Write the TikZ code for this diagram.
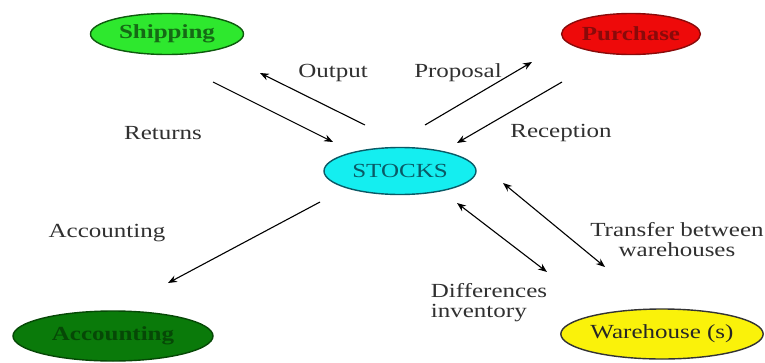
\documentclass[tikz,border=0pt]{standalone}
\usepackage{fontspec}
\setmainfont{Liberation Serif}[FakeStretch=1.25]
\usetikzlibrary{shapes.geometric,arrows.meta}
\definecolor{shipfill}{HTML}{2EE82E}
\definecolor{shipline}{HTML}{0E5A0E}
\definecolor{shiptext}{HTML}{156A15}
\definecolor{purfill}{HTML}{EE0A0A}
\definecolor{purtext}{HTML}{8A0A0A}
\definecolor{stockfill}{HTML}{14EEF0}
\definecolor{stocktext}{HTML}{0A5A66}
\definecolor{accfill}{HTML}{0A7A0A}
\definecolor{acctext}{HTML}{064806}
\definecolor{whfill}{HTML}{FAF20A}
\definecolor{labeltext}{HTML}{303030}
\begin{document}
\begin{tikzpicture}[x=1pt,y=-1pt,
  every node/.style={font=\fontsize{20}{20}\selectfont},
  place/.style={ellipse, draw=#1, line width=1.4pt, inner sep=0pt},
  label/.style={text=labeltext, inner sep=0pt},
  flow/.style={line width=1.1pt, -{Stealth[length=9pt,width=7pt]}},
  twoway/.style={line width=1.1pt, {Stealth[length=9pt,width=7pt]}-{Stealth[length=9pt,width=7pt]}}]
\useasboundingbox[fill=white] (0,0) rectangle (765,362);

% departments
\node[place=shipline, fill=shipfill, minimum width=153pt, minimum height=41pt, text=shiptext, font=\fontsize{20}{20}\selectfont\bfseries] (ship) at (167,34) {Shipping};
\node[place=purtext, fill=purfill, minimum width=138pt, minimum height=41pt, text=purtext, font=\fontsize{20}{20}\selectfont\bfseries] (purch) at (631,34) {Purchase};
\node[place=stocktext, fill=stockfill, minimum width=152pt, minimum height=47pt, text=stocktext] (stocks) at (400,171) {STOCKS};
\node[place=acctext, fill=accfill, minimum width=200pt, minimum height=50pt, text=acctext, font=\fontsize{20}{20}\selectfont\bfseries] (acc) at (113,336) {Accounting};
\node[place=black!80, fill=whfill, minimum width=200pt, minimum height=50pt, text=black!85] (wh) at (662,334) {Warehouse (s)};

% arrow end points
\coordinate (retA) at (213,82);   \coordinate (retB) at (333,142);
\coordinate (outA) at (365,125);  \coordinate (outB) at (260,73);
\coordinate (proA) at (425,125);  \coordinate (proB) at (532,62);
\coordinate (recA) at (562,82);   \coordinate (recB) at (457,143);
\coordinate (accA) at (320,202);  \coordinate (accB) at (168,283);
\coordinate (difA) at (457,203);  \coordinate (difB) at (547,272);
\coordinate (trA)  at (503,183);  \coordinate (trB)  at (605,267);

\draw[flow] (retA) -- (retB);
\draw[flow] (outA) -- (outB);
\draw[flow] (proA) -- (proB);
\draw[flow] (recA) -- (recB);
\draw[flow] (accA) -- (accB);
\draw[twoway] (difA) -- (difB);
\draw[twoway] (trA) -- (trB);

% flow labels
\node[label] (lout) at (333,73) {Output};
\node[label] (lret) at (163,133) {Returns};
\node[label] (lpro) at (458,73) {Proposal};
\node[label] (lrec) at (561,133) {Reception};
\node[label] (lacc) at (107,233) {Accounting};
\node[label, align=center] (ltr) at (677,240) {Transfer between\\warehouses};
\node[label, align=left] (ldif) at (489,303) {Differences\\inventory};
\end{tikzpicture}
\end{document}
